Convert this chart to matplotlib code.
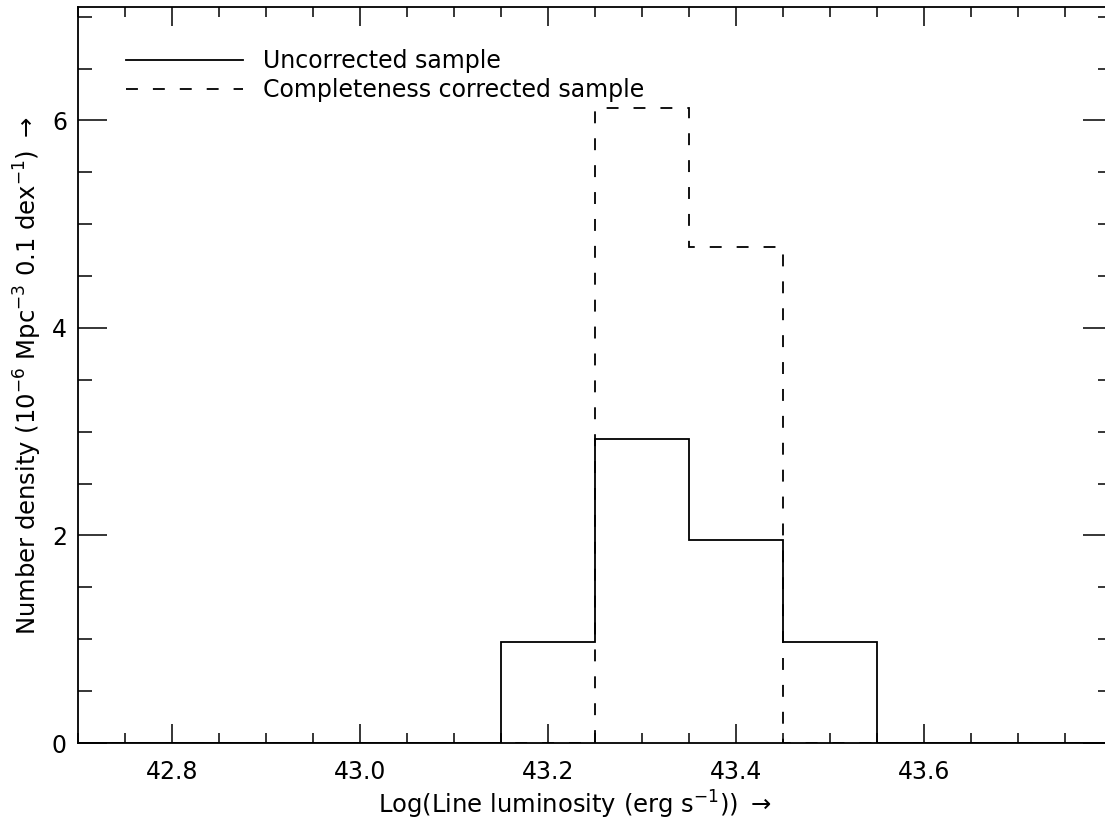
import numpy as np
import matplotlib
matplotlib.use('Agg')
import matplotlib.pyplot as plt
from matplotlib.ticker import MultipleLocator, FixedLocator, FormatStrFormatter

# bin edges (log line luminosity) and number densities
edges = [42.65, 42.75, 42.85, 42.95, 43.05, 43.15, 43.25, 43.35, 43.45, 43.55, 43.65, 43.75, 43.85]
uncorrected = [0, 0, 0, 0, 0, 0.975, 2.93, 1.955, 0.975, 0, 0, 0]
corrected = [0, 0, 0, 0, 0, 0, 6.12, 4.78, 0, 0, 0, 0]
xticks = [42.8, 43.0, 43.2, 43.4, 43.6]

plt.rcParams['font.family'] = 'DejaVu Sans'
plt.rcParams['mathtext.fontset'] = 'dejavusans'

fig = plt.figure(figsize=(11.05, 8.21), dpi=100)
# right spine sits just past the image edge, like the reference
ax = fig.add_axes([78/1105, (821-743)/821, 1034/1105, (743-7.3)/821])

ax.stairs(uncorrected, edges, color='black', lw=1.3, label='Uncorrected sample')
ax.stairs(corrected, edges, color='black', lw=1.3, linestyle=(0, (6.6, 8.3)),
          label='Completeness corrected sample')

ax.set_xlim(42.7, 43.8)
ax.set_ylim(0, 7.09)

ax.xaxis.set_major_locator(FixedLocator(xticks))
ax.xaxis.set_minor_locator(MultipleLocator(0.05))
ax.yaxis.set_major_locator(MultipleLocator(2))
ax.yaxis.set_minor_locator(MultipleLocator(0.5))
ax.xaxis.set_major_formatter(FormatStrFormatter('%.1f'))

ax.tick_params(axis='x', which='major', direction='in', length=14, width=1.1,
               top=True, labelsize=17, pad=12)
ax.tick_params(axis='x', which='minor', direction='in', length=7, width=1.1, top=True)
ax.tick_params(axis='y', which='major', direction='in', length=21, width=1.1,
               right=True, labelsize=17, pad=8)
ax.tick_params(axis='y', which='minor', direction='in', length=10, width=1.1, right=True)
for s in ax.spines.values():
    s.set_linewidth(1.3)

ax.set_xlabel(r'Log(Line luminosity (erg s$^{-1}$)) $\rightarrow$', fontsize=17.5)
ax.xaxis.set_label_coords(0.48, -0.062)
ax.set_ylabel(r'Number density (10$^{-6}$ Mpc$^{-3}$ 0.1 dex$^{-1}$) $\rightarrow$',
              fontsize=17.5, labelpad=6)

ax.legend(loc='upper left', bbox_to_anchor=(0.026, 0.972), frameon=False, fontsize=17,
          handlelength=4.95, handletextpad=0.85, labelspacing=0.22)

fig.savefig('out.png', dpi=100)
